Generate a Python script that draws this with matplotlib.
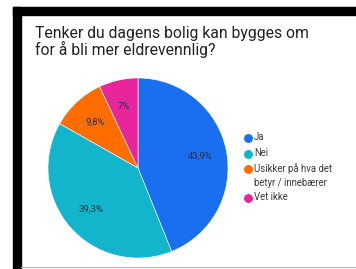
import matplotlib

matplotlib.use("Agg")
import matplotlib.pyplot as plt
from matplotlib.patches import Rectangle

plt.rcParams["font.family"] = ["Roboto", "DejaVu Sans"]

TITLE = "Tenker du dagens bolig kan bygges om\nfor å bli mer eldrevennlig?"
categories = ["Ja", "Nei", "Usikker på hva det\nbetyr / innebærer", "Vet ikke"]
shares = [43.9, 39.3, 9.8, 7.0]
colors = ["#1a6ff0", "#12b5cb", "#ff6d01", "#e8259a"]

W, H = 356, 269
fig = plt.figure(figsize=(W / 100, H / 100), dpi=100)
fig.patch.set_facecolor("white")


def px(x, y):
    """pixel coords from top-left -> figure fraction"""
    return x / W, 1 - y / H


# black frame bits (screenshot border)
fig.patches.append(Rectangle((13 / W, 0), 8 / W, 1 - 7 / H, transform=fig.transFigure,
                             color="black", zorder=0))
fig.patches.append(Rectangle((13 / W, 1 - 15 / H), 1, 8 / H, transform=fig.transFigure,
                             color="black", zorder=0))
fig.patches.append(Rectangle((21 / W, 1 - 267.5 / H), 1, 0.8 / H, transform=fig.transFigure,
                             color="#b0b0b0", lw=0, zorder=0))

# title
tx, ty = px(35, 26)
fig.text(tx, ty, TITLE, ha="left", va="top", fontsize=11.3, color="#212121",
         linespacing=1.0)

# pie
cx, cy, r = 138, 168, 90
ax = fig.add_axes([(cx - r) / W, 1 - (cy + r) / H, 2 * r / W, 2 * r / H])


def fmt(p):
    s = f"{p:.1f}".replace(".", ",")
    return (s[:-2] if s.endswith(",0") else s) + "%"


wedges, texts, autotexts = ax.pie(
    shares, colors=colors, startangle=90, counterclock=False,
    autopct=fmt, pctdistance=0.7,
    wedgeprops=dict(edgecolor="white", linewidth=0.4),
    textprops=dict(fontsize=6.8, color="#2b2f45"),
)
ax.set_xlim(-1, 1)
ax.set_ylim(-1, 1)
ax.set_aspect("equal")
ax.axis("off")

# legend (drawn by hand so the marker sits on the first line)
lx, ly = 248, 138
for cat, col in zip(categories, colors):
    mx, my = px(lx, ly)
    fig.lines.append(plt.Line2D([mx], [my], transform=fig.transFigure, marker="o",
                                markersize=5.4, color=col, linestyle="none"))
    tx, ty = px(lx + 6, ly)
    fig.text(tx, ty + 0.5 / H, cat.split("\n")[0], ha="left", va="center",
             fontsize=6.9, color="#3c3c3c")
    extra = cat.split("\n")[1:]
    for i, line in enumerate(extra, 1):
        tx, ty = px(lx + 6, ly + 13.5 * i)
        fig.text(tx, ty, line, ha="left", va="center", fontsize=6.9, color="#3c3c3c")
    ly += 15.5 + 13.5 * len(extra)

fig.savefig("out.png", dpi=100, facecolor="white")
